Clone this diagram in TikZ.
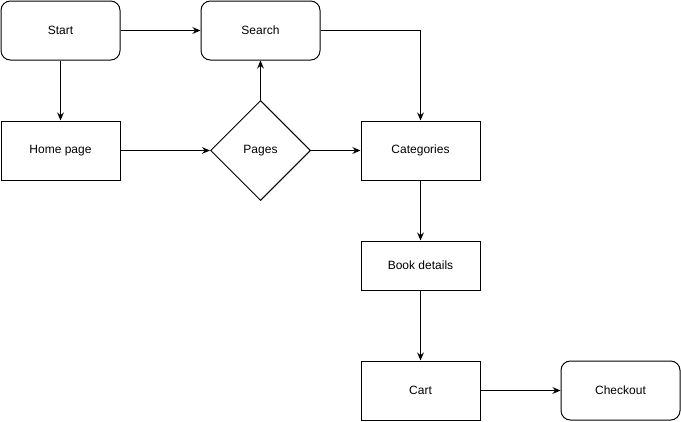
\documentclass[tikz,border=0pt]{standalone}
\usepackage{fontspec}
\setmainfont{Liberation Sans}
\usetikzlibrary{shapes.geometric,arrows.meta}
\begin{document}
\begin{tikzpicture}[x=0.75pt,y=-0.75pt,
  font=\fontsize{9}{11}\selectfont,
  box/.style={draw,line width=0.75pt,minimum width=89.25pt,minimum height=44.25pt,inner sep=0pt},
  rbox/.style={box,rounded corners=7pt},
  dia/.style={draw,line width=0.75pt,diamond,minimum width=75pt,minimum height=75pt,inner sep=0pt},
  arr/.style={draw,line width=0.75pt,-{Stealth[length=6pt,width=5pt]}}]
\useasboundingbox (0,0) rectangle (681,421);
\node[rbox] (start) at (60.5,30.5) {Start};
\node[rbox] (search) at (260.5,30.5) {Search};
\node[box] (home) at (60.5,150.5) {Home page};
\node[dia] (pages) at (260.5,150.5) {Pages};
\node[box] (cat) at (420.5,150.5) {Categories};
\node[box,minimum height=36.75pt] (book) at (420.5,265.5) {Book details};
\node[box] (cart) at (420.5,390.5) {Cart};
\node[rbox] (check) at (620.5,390.5) {Checkout};
\draw[arr] (start) -- (search);
\draw[arr] (start) -- (home);
\draw[arr] (home) -- (pages);
\draw[arr] (pages) -- (search);
\draw[arr] (pages) -- (cat);
\draw[arr] (search.east) -| (cat.north);
\draw[arr] (cat) -- (book);
\draw[arr] (book) -- (cart);
\draw[arr] (cart) -- (check);
\end{tikzpicture}
\end{document}
